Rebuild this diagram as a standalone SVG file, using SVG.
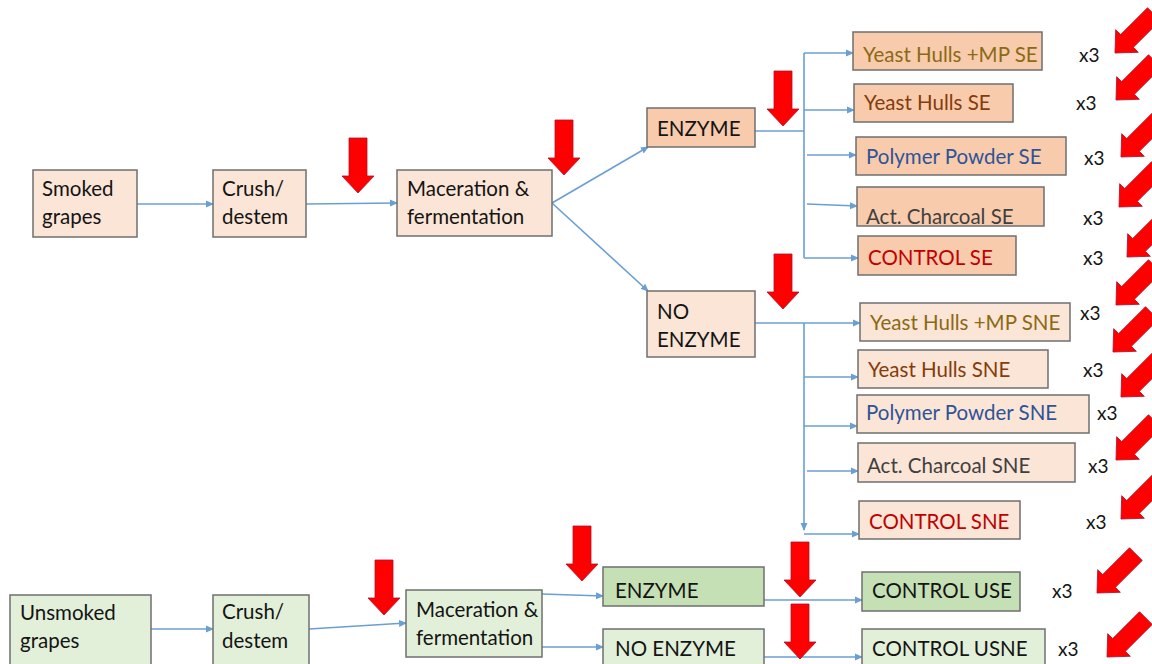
<svg xmlns="http://www.w3.org/2000/svg" xmlns:xlink="http://www.w3.org/1999/xlink" width="1152" height="664" viewBox="0 0 1152 664">
<style>
  text { font-family: Lato, "Liberation Sans", sans-serif; font-size: 20.5px; fill: #141414; }
  .lp { fill: #FBE5D6; stroke: #6f6f6f; stroke-width: 1.5; }
  .dp { fill: #F8CBAD; stroke: #6f6f6f; stroke-width: 1.5; }
  .lg { fill: #E2F0D9; stroke: #6f6f6f; stroke-width: 1.5; }
  .dg { fill: #C5E0B4; stroke: #6f6f6f; stroke-width: 1.5; }
  .c { fill: none; stroke: #6A9FD4; stroke-width: 1.6; }
  .ca { fill: none; stroke: #6A9FD4; stroke-width: 1.6; marker-end: url(#ah); }
  .ol { fill: #8B6A14; }
  .br { fill: #843C0C; }
  .bl { fill: #2F5496; }
  .gy { fill: #404040; }
  .rd { fill: #C00000; }
  .x3 { fill: #141414; font-size: 19px; }
  .ra { fill: #FF0000; stroke: #B0102A; stroke-width: 0.8; }
</style>
<defs>
  <marker id="ah" markerWidth="8" markerHeight="8" refX="7" refY="4" orient="auto" markerUnits="userSpaceOnUse">
    <path d="M0,0.5 L8,4 L0,7.5 Z" fill="#6A9FD4"/>
  </marker>
  <polygon id="arr" class="ra" points="-9,-55 9,-55 9,-17 16,-17 0,0 -16,-17 -9,-17"/>
</defs>
<rect width="1152" height="664" fill="#FFFFFF"/>

<g id="connectors">
  <line class="ca" x1="137" y1="204" x2="213" y2="204"/>
  <line class="ca" x1="306" y1="204" x2="397" y2="203"/>
  <line class="ca" x1="552" y1="203" x2="648" y2="147"/>
  <line class="ca" x1="552" y1="203" x2="648" y2="291"/>
  <line class="c" x1="755" y1="131" x2="804" y2="131"/>
  <line class="c" x1="804" y1="53" x2="804" y2="258"/>
  <line class="ca" x1="804" y1="53" x2="853" y2="53"/>
  <line class="ca" x1="804" y1="110" x2="854" y2="110"/>
  <line class="ca" x1="807" y1="155" x2="856" y2="155"/>
  <line class="ca" x1="807" y1="204" x2="857" y2="206"/>
  <line class="ca" x1="804" y1="258" x2="858" y2="258"/>
  <line class="ca" x1="755" y1="323" x2="860" y2="323"/>
  <line class="ca" x1="804" y1="323" x2="804" y2="530"/>
  <line class="ca" x1="804" y1="377" x2="858" y2="377"/>
  <line class="ca" x1="804" y1="426" x2="857" y2="426"/>
  <line class="ca" x1="807" y1="471" x2="858" y2="471"/>
  <line class="ca" x1="804" y1="534" x2="859" y2="534"/>
  <line class="ca" x1="151" y1="629" x2="213" y2="629"/>
  <line class="ca" x1="309" y1="629" x2="406" y2="623"/>
  <line class="ca" x1="542" y1="594" x2="603" y2="596"/>
  <line class="ca" x1="542" y1="647" x2="603" y2="647"/>
  <line class="ca" x1="764" y1="600" x2="862" y2="600"/>
  <line class="ca" x1="764" y1="657" x2="862" y2="657"/>
</g>

<g id="n-smoked"><rect class="lp" x="33" y="170" width="104" height="67"/><text x="42" y="196">Smoked</text><text x="42" y="224">grapes</text></g>
<g id="n-crush1"><rect class="lp" x="213" y="170" width="93" height="67"/><text x="222" y="196">Crush/</text><text x="222" y="224">destem</text></g>
<g id="n-mac1"><rect class="lp" x="397" y="170" width="155" height="66"/><text x="407" y="196">Maceration &amp;</text><text x="407" y="224">fermentation</text></g>
<g id="n-enz1"><rect class="dp" x="647" y="108" width="108" height="39"/><text x="657" y="136">ENZYME</text></g>
<g id="n-noenz1"><rect class="lp" x="647" y="291" width="108" height="66"/><text x="657" y="319">NO</text><text x="657" y="347">ENZYME</text></g>

<g id="n-yhmp-se"><rect class="dp" x="853" y="32" width="189" height="38"/><text class="ol" x="863" y="62">Yeast Hulls +MP SE</text></g>
<g id="n-yh-se"><rect class="dp" x="854" y="84" width="159" height="38"/><text class="br" x="864" y="110">Yeast Hulls SE</text></g>
<g id="n-pp-se"><rect class="dp" x="856" y="137" width="210" height="38"/><text class="bl" x="866" y="164">Polymer Powder SE</text></g>
<g id="n-ac-se"><rect class="dp" x="857" y="187" width="187" height="39"/><text class="gy" x="866" y="224">Act. Charcoal SE</text></g>
<g id="n-ctl-se"><rect class="dp" x="858" y="236" width="158" height="39"/><text class="rd" x="868" y="265">CONTROL SE</text></g>

<g id="n-yhmp-sne"><rect class="lp" x="860" y="303" width="210" height="38"/><text class="ol" x="870" y="330">Yeast Hulls +MP SNE</text></g>
<g id="n-yh-sne"><rect class="lp" x="858" y="350" width="190" height="38"/><text class="br" x="868" y="377">Yeast Hulls SNE</text></g>
<g id="n-pp-sne"><rect class="lp" x="857" y="395" width="232" height="38"/><text class="bl" x="866" y="420">Polymer Powder SNE</text></g>
<g id="n-ac-sne"><rect class="lp" x="858" y="443" width="217" height="39"/><text class="gy" x="867" y="473">Act. Charcoal SNE</text></g>
<g id="n-ctl-sne"><rect class="lp" x="859" y="501" width="161" height="38"/><text class="rd" x="869" y="529">CONTROL SNE</text></g>

<g id="n-unsmoked"><rect class="lg" x="10" y="595" width="141" height="74"/><text x="20" y="620">Unsmoked</text><text x="20" y="648">grapes</text></g>
<g id="n-crush2"><rect class="lg" x="213" y="595" width="96" height="74"/><text x="222" y="619">Crush/</text><text x="222" y="648">destem</text></g>
<g id="n-mac2"><rect class="lg" x="406" y="590" width="136" height="67"/><text x="416" y="617">Maceration &amp;</text><text x="416" y="645">fermentation</text></g>
<g id="n-enz2"><rect class="dg" x="603" y="567" width="161" height="39"/><text x="615" y="598">ENZYME</text></g>
<g id="n-noenz2"><rect class="lg" x="603" y="629" width="161" height="40"/><text x="615" y="656">NO ENZYME</text></g>
<g id="n-ctl-use"><rect class="dg" x="862" y="572" width="158" height="39"/><text x="872" y="598">CONTROL USE</text></g>
<g id="n-ctl-usne"><rect class="lg" x="862" y="629" width="183" height="40"/><text x="872" y="656">CONTROL USNE</text></g>

<g id="replicates">
  <text class="x3" x="1079" y="62">x3</text>
  <text class="x3" x="1076" y="110">x3</text>
  <text class="x3" x="1084" y="165">x3</text>
  <text class="x3" x="1083" y="225">x3</text>
  <text class="x3" x="1083" y="265">x3</text>
  <text class="x3" x="1080" y="320">x3</text>
  <text class="x3" x="1083" y="377">x3</text>
  <text class="x3" x="1097" y="420">x3</text>
  <text class="x3" x="1088" y="473">x3</text>
  <text class="x3" x="1086" y="529">x3</text>
  <text class="x3" x="1052" y="598">x3</text>
  <text class="x3" x="1058" y="656">x3</text>
</g>

<g id="sampling-arrows">
  <use xlink:href="#arr" transform="translate(358,193)"/>
  <use xlink:href="#arr" transform="translate(564,175)"/>
  <use xlink:href="#arr" transform="translate(783,126)"/>
  <use xlink:href="#arr" transform="translate(783,309)"/>
  <use xlink:href="#arr" transform="translate(384,615)"/>
  <use xlink:href="#arr" transform="translate(582,581)"/>
  <use xlink:href="#arr" transform="translate(800,597)"/>
  <use xlink:href="#arr" transform="translate(800,659)"/>
  <use xlink:href="#arr" transform="translate(1115,53) rotate(45)"/>
  <use xlink:href="#arr" transform="translate(1116,100) rotate(45)"/>
  <use xlink:href="#arr" transform="translate(1121,157) rotate(45)"/>
  <use xlink:href="#arr" transform="translate(1119,207) rotate(45)"/>
  <use xlink:href="#arr" transform="translate(1127,257) rotate(45)"/>
  <use xlink:href="#arr" transform="translate(1116,305) rotate(45)"/>
  <use xlink:href="#arr" transform="translate(1113,352) rotate(45)"/>
  <use xlink:href="#arr" transform="translate(1121,397) rotate(45)"/>
  <use xlink:href="#arr" transform="translate(1116,460) rotate(45)"/>
  <use xlink:href="#arr" transform="translate(1121,519) rotate(45)"/>
  <use xlink:href="#arr" transform="translate(1097,593) rotate(45)"/>
  <use xlink:href="#arr" transform="translate(1107,657) rotate(45)"/>
</g>
</svg>
